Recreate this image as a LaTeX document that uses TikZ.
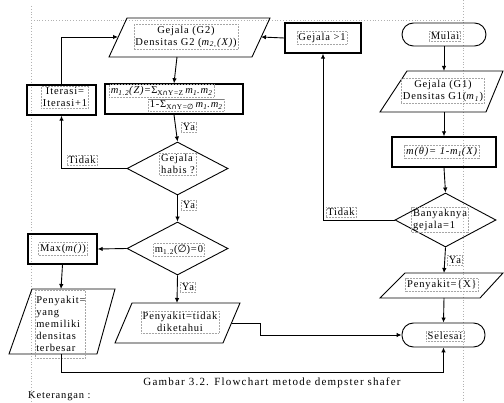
\documentclass[tikz,border=0pt]{standalone}
\usepackage{fontspec}
\setmainfont{Liberation Serif}[LetterSpace=8]
\newfontfamily\symf{DejaVu Sans}
\usetikzlibrary{arrows.meta,shapes.geometric}
\newcommand\fsz{\fontsize{10.5}{12}\selectfont}
\begin{document}
\begin{tikzpicture}[x=1pt,y=-1pt,font=\fsz,
 shp/.style={draw=black,line width=0.9pt},
 boxs/.style={draw=black,line width=1.4pt,inner sep=0pt},
 term/.style={draw=black,line width=0.9pt,rounded corners=11.5pt,inner sep=0pt},
 dia/.style={draw=black,shape=diamond,line width=0.9pt,inner sep=0pt},
 txt/.style={draw=gray!70,densely dotted,line width=0.5pt,inner sep=1.5pt,align=center},
 arr/.style={line width=0.9pt,-{Latex[length=5pt,width=4.5pt]}},
 ln/.style={line width=0.9pt},
 margin/.style={draw=gray!60,dotted,line width=0.8pt}]
\useasboundingbox (0,0) rectangle (504,403);
\clip (0,0) rectangle (504,403);
% page margin guides
\draw[margin] (31,6) -- (31,403);
\draw[margin] (31,20) -- (463,20);
\draw[margin] (463,0) -- (463,403);

% ---------- right column ----------
\node[term,minimum width=84pt,minimum height=23pt] (mulai) at (444,34.5) {};
\node[txt] (tmulai) at (445,36) {Mulai};
% G1 parallelogram
\draw[shp] (407,71) -- (503,71) -- (486,112) -- (380,112) -- cycle;
\coordinate (g1n) at (444,71);
\coordinate (g1s) at (444,112);
\node[txt] (tg1) at (443,91) {Gejala (G1)\\Densitas G1(\textit{m}\textsubscript{\textit{1}})};
\node[boxs,minimum width=104pt,minimum height=30pt] (theta) at (444,152) {};
\node[txt] (ttheta) at (442,152) {\textit{m(θ)= 1-m\textsubscript{1}(X)}};
\node[dia,minimum width=101pt,minimum height=54pt] (d3) at (445.5,220) {};
\node[txt,align=left] (td3) at (440,220) {Banyaknya\\gejala=1};
% Penyakit={X}
\draw[shp] (405,273) -- (503,273) -- (480,298) -- (380,298) -- cycle;
\coordinate (p3n) at (444,273);
\coordinate (p3s) at (444,298);
\node[txt] (tp3) at (442,285) {Penyakit=\{X\}};
\node[term,minimum width=83pt,minimum height=24pt] (selesai) at (443.5,335) {};
\node[txt] (tselesai) at (445,336) {Selesai};
\node[boxs,minimum width=76pt,minimum height=30pt] (g1b) at (323,38) {};
\node[txt] (tg1b) at (322,38) {Gejala >1};

\draw[arr] (mulai.south) -- (g1n);
\draw[arr] (g1s) -- (theta.north);
\draw[arr] (theta.south) -- (d3.north);
\draw[arr] (d3.west) -| (g1b.south);
\node[txt] (tidak2) at (341,212) {Tidak};
\draw[arr] (d3.south) -- (p3n);
\node[txt] (ya4) at (455,260) {Ya};
\draw[arr] (p3s) -- (selesai.north);

% ---------- left column ----------
% G2 parallelogram
\draw[shp] (127,18) -- (270,18) -- (252,57) -- (109,57) -- cycle;
\coordinate (g2s) at (177,57);
\coordinate (g2w) at (118,37);
\coordinate (g2e) at (261,37);
\node[txt] (tg2) at (186,37) {Gejala (G2)\\Densitas G2 (\textit{m}\textsubscript{\textit{2,}}\textit{(X)})};
\draw[arr] (g1b.west) -- (g2e);

\node[boxs,minimum width=138pt,minimum height=30pt] (form) at (174,99) {};
\node[txt,anchor=west] (tf1) at (109,91) {\textit{m\textsubscript{1.2}(Z)}=Σ\textsubscript{X{\symf\char"2229}Y=Z}\,\textit{m\textsubscript{1}.m\textsubscript{2}}};
\node[txt,anchor=west] (tf2) at (148,105) {1-Σ\textsubscript{X{\symf\char"2229}Y={\symf\char"2205}}\,\textit{m\textsubscript{1}.m\textsubscript{2}}};
\draw[gray,line width=0.6pt] (tf2.north west) -- (tf2.north east);

\node[boxs,minimum width=69pt,minimum height=30pt] (iter) at (61.5,100) {};
\node[txt] (titer) at (65,97) {Iterasi=\\Iterasi+1};

\node[dia,minimum width=101pt,minimum height=53pt] (d1) at (177.5,168.5) {};
\node[txt,align=left] (td1) at (178,164) {Gejala\\habis ?};
\node[dia,minimum width=101pt,minimum height=53pt] (d2) at (177.5,248.5) {};
\node[txt] (td2) at (179,250) {m\textsubscript{1.2}({\symf\char"2205})=0};

\node[boxs,minimum width=69pt,minimum height=30pt] (max) at (62.5,249) {};
\node[txt] (tmax) at (63,249) {Max(\textit{m()})};

% Penyakit = yang memiliki densitas terbesar
\draw[shp] (32,289) -- (115,289) -- (97,354) -- (9,354) -- cycle;
\coordinate (p1n) at (61,289);
\coordinate (p1s) at (61,354);
\node[txt,align=left,text width=48pt,minimum height=68pt,anchor=north west,inner sep=1pt] (tp1) at (35,290) {Penyakit=\\yang\\memiliki\\densitas\\terbesar};

% Penyakit = tidak diketahui
\draw[shp] (132,303) -- (240,303) -- (223,343) -- (115,343) -- cycle;
\coordinate (p2n) at (177,303);
\coordinate (p2e) at (231.5,323);
\node[txt] (tp2) at (180,322) {Penyakit=tidak\\diketahui};

% connectors
\draw[arr] (g2s) -- (form.north);
\draw[arr] (iter.north) |- (g2w);
\draw[arr] (form.south) -- (d1.north);
\node[txt] (ya1) at (189,127) {Ya};
\draw[arr] (d1.west) -| (iter.south);
\node[txt] (tidak1) at (82,160) {Tidak};
\draw[arr] (d1.south) -- (d2.north);
\node[txt] (ya2) at (189,205) {Ya};
\draw[arr] (d2.west) -- (max.east);
\draw[arr] (max.south) -- (p1n);
\draw[arr] (d2.south) -- (p2n);
\node[txt] (ya3) at (188,287) {Ya};
\coordinate (c1) at (260,323);
\coordinate (c2) at (260,335);
\draw[arr] (p2e) -- (c1) -- (c2) -- (selesai.west);
\coordinate (c3) at (61,372);
\draw[arr] (p1s) -- (c3) -| (selesai.south);

% caption
\node[anchor=center,font=\fontsize{11}{13}\selectfont\addfontfeatures{LetterSpace=11}] (cap) at (272,383) {Gambar 3.2. Flowchart metode dempster shafer};
\node[anchor=west,inner sep=0pt] (ket) at (28,396) {Keterangan :};
\end{tikzpicture}
\end{document}
